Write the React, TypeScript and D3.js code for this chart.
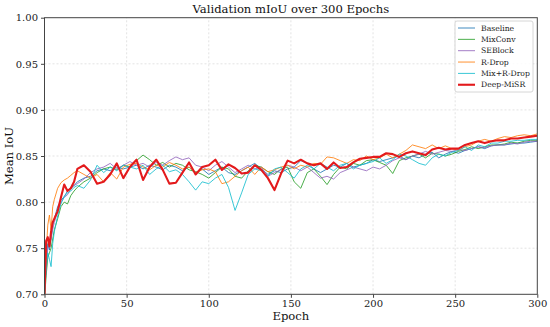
import React, { useEffect, useRef } from "react";
import * as d3 from "d3";

const W = 550;
const H = 327;
const margin = { top: 17.7, right: 12.7, bottom: 32.7, left: 44.5 };

// epochs shared by all series
const epochs = [
  0, 1, 2, 3, 4, 5, 6, 8, 10, 12, 14, 16, 18,
  20, 24, 28, 32, 36, 40, 44, 48, 52, 56, 60, 64, 68, 72, 76, 80, 84, 88, 92, 96,
  100, 104, 108, 112, 116, 120, 124, 128, 132, 136, 140, 144, 148, 152, 156, 160,
  164, 168, 172, 176, 180, 184, 188, 192, 196, 200, 204, 208, 212, 216, 220, 224,
  228, 232, 236, 240, 244, 248, 252, 256, 260, 264, 268, 272, 276, 280, 284, 288,
  292, 296, 300,
];

const baseline = [
  0.70, 0.735, 0.755, 0.748, 0.76, 0.775, 0.782, 0.795, 0.802, 0.806, 0.812, 0.816, 0.818,
  0.822, 0.826, 0.828, 0.834, 0.836, 0.834, 0.838, 0.836, 0.838, 0.840, 0.836, 0.840, 0.838, 0.835, 0.840, 0.838, 0.834, 0.838, 0.832, 0.836,
  0.830, 0.834, 0.838, 0.832, 0.830, 0.834, 0.838, 0.842, 0.836, 0.830, 0.834, 0.832, 0.836, 0.838, 0.845, 0.842,
  0.836, 0.832, 0.836, 0.840, 0.838, 0.842, 0.838, 0.840, 0.842, 0.846, 0.844, 0.846, 0.848, 0.850, 0.846, 0.850,
  0.848, 0.852, 0.854, 0.848, 0.852, 0.855, 0.853, 0.856, 0.858, 0.860, 0.858, 0.861, 0.862, 0.862, 0.863, 0.864,
  0.864, 0.865, 0.866,
];

const mixConv = [
  0.695, 0.72, 0.74, 0.745, 0.75, 0.76, 0.77, 0.782, 0.795, 0.800, 0.798, 0.807, 0.812,
  0.816, 0.822, 0.826, 0.832, 0.836, 0.838, 0.835, 0.840, 0.838, 0.845, 0.851, 0.846, 0.840, 0.843, 0.838, 0.842, 0.840, 0.835, 0.833, 0.830,
  0.826, 0.832, 0.838, 0.836, 0.828, 0.826, 0.834, 0.840, 0.838, 0.833, 0.830, 0.836, 0.838, 0.822, 0.815, 0.832,
  0.836, 0.828, 0.819, 0.830, 0.838, 0.836, 0.842, 0.840, 0.845, 0.846, 0.843, 0.840, 0.831, 0.845, 0.848, 0.850,
  0.852, 0.848, 0.853, 0.852, 0.850, 0.852, 0.855, 0.857, 0.860, 0.858, 0.860, 0.862, 0.862, 0.863, 0.865, 0.864,
  0.866, 0.867, 0.867,
];

const seBlock = [
  0.70, 0.73, 0.75, 0.755, 0.76, 0.77, 0.778, 0.79, 0.80, 0.805, 0.808, 0.814, 0.818,
  0.82, 0.825, 0.832, 0.836, 0.838, 0.842, 0.836, 0.840, 0.844, 0.840, 0.842, 0.838, 0.843, 0.840, 0.845, 0.849, 0.846, 0.848, 0.840, 0.838,
  0.834, 0.840, 0.844, 0.838, 0.832, 0.836, 0.840, 0.836, 0.838, 0.828, 0.832, 0.835, 0.840, 0.838, 0.834, 0.838,
  0.832, 0.826, 0.828, 0.825, 0.832, 0.835, 0.838, 0.836, 0.834, 0.838, 0.836, 0.840, 0.845, 0.848, 0.846, 0.850,
  0.852, 0.855, 0.852, 0.854, 0.856, 0.855, 0.857, 0.856, 0.858, 0.860, 0.859, 0.861, 0.862, 0.862, 0.864, 0.863,
  0.865, 0.866, 0.866,
];

const rDrop = [
  0.70, 0.745, 0.775, 0.786, 0.77, 0.795, 0.803, 0.815, 0.821, 0.824, 0.826, 0.829, 0.832,
  0.834, 0.830, 0.826, 0.830, 0.822, 0.832, 0.825, 0.838, 0.841, 0.842, 0.838, 0.835, 0.840, 0.838, 0.843, 0.840, 0.836, 0.838, 0.832, 0.835,
  0.836, 0.833, 0.820, 0.822, 0.828, 0.834, 0.838, 0.830, 0.838, 0.833, 0.835, 0.838, 0.840, 0.836, 0.840, 0.838,
  0.842, 0.841, 0.849, 0.848, 0.845, 0.842, 0.846, 0.845, 0.850, 0.846, 0.848, 0.852, 0.848, 0.852, 0.856, 0.862,
  0.860, 0.858, 0.862, 0.858, 0.861, 0.858, 0.856, 0.860, 0.862, 0.866, 0.868, 0.866, 0.869, 0.871, 0.870, 0.872,
  0.873, 0.872, 0.874,
];

const mixRDrop = [
  0.70, 0.725, 0.745, 0.738, 0.73, 0.755, 0.768, 0.785, 0.798, 0.806, 0.81, 0.812, 0.816,
  0.818, 0.815, 0.824, 0.840, 0.832, 0.838, 0.834, 0.840, 0.838, 0.836, 0.840, 0.830, 0.836, 0.840, 0.833, 0.835, 0.830, 0.822, 0.813, 0.822,
  0.820, 0.826, 0.830, 0.816, 0.791, 0.810, 0.830, 0.836, 0.834, 0.828, 0.836, 0.838, 0.832, 0.826, 0.836, 0.840,
  0.836, 0.842, 0.838, 0.834, 0.840, 0.842, 0.836, 0.840, 0.842, 0.844, 0.848, 0.842, 0.846, 0.852, 0.850, 0.846,
  0.842, 0.840, 0.848, 0.852, 0.850, 0.854, 0.856, 0.860, 0.856, 0.862, 0.860, 0.864, 0.864, 0.866, 0.866, 0.867,
  0.867, 0.868, 0.868,
];

const deepMiSR = [
  0.70, 0.758, 0.762, 0.752, 0.768, 0.778, 0.782, 0.790, 0.805, 0.819, 0.812, 0.815, 0.822,
  0.836, 0.840, 0.833, 0.820, 0.822, 0.830, 0.842, 0.826, 0.838, 0.846, 0.824, 0.838, 0.846, 0.835, 0.820, 0.821, 0.832, 0.843, 0.830, 0.838,
  0.840, 0.846, 0.835, 0.841, 0.837, 0.831, 0.832, 0.840, 0.835, 0.826, 0.813, 0.831, 0.845, 0.842, 0.846, 0.842,
  0.840, 0.842, 0.836, 0.843, 0.837, 0.838, 0.843, 0.847, 0.848, 0.849, 0.849, 0.853, 0.852, 0.849, 0.853, 0.855,
  0.853, 0.851, 0.857, 0.859, 0.857, 0.858, 0.858, 0.862, 0.864, 0.866, 0.864, 0.866, 0.867, 0.867, 0.869, 0.869,
  0.870, 0.871, 0.872,
];

const seriesNames = ["Baseline", "MixConv", "SEBlock", "R-Drop", "Mix+R-Drop", "Deep-MiSR"];
const seriesValues = [baseline, mixConv, seBlock, rDrop, mixRDrop, deepMiSR];
const colors = ["#1f77b4", "#2ca02c", "#9467bd", "#ff7f0e", "#17becf", "#e31a1c"];

const xTicks = [0, 50, 100, 150, 200, 250, 300];
const yTicks = [0.7, 0.75, 0.8, 0.85, 0.9, 0.95, 1.0];

const FONT = "'DejaVu Serif', serif";

export default function App() {
  const ref = useRef<SVGSVGElement>(null);

  useEffect(() => {
    const svg = d3.select(ref.current);
    svg.selectAll("*").remove();

    const x = d3.scaleLinear().domain([0, 300]).range([margin.left, W - margin.right]);
    const y = d3.scaleLinear().domain([0.7, 1.0]).range([H - margin.bottom, margin.top]);

    svg.append("rect").attr("width", W).attr("height", H).attr("fill", "#fff");

    // grid
    const grid = svg.append("g").attr("stroke", "#dcdcdc").attr("stroke-width", 0.8)
      .attr("stroke-dasharray", "2,2");
    xTicks.slice(1, -1).forEach((t) => {
      grid.append("line").attr("x1", x(t)).attr("x2", x(t))
        .attr("y1", y(0.7)).attr("y2", y(1.0));
    });
    yTicks.slice(1, -1).forEach((t) => {
      grid.append("line").attr("x1", x(0)).attr("x2", x(300))
        .attr("y1", y(t)).attr("y2", y(t));
    });

    // lines
    svg.append("defs").append("clipPath").attr("id", "plot-clip")
      .append("rect").attr("x", x(0)).attr("y", y(1.0))
      .attr("width", x(300) - x(0)).attr("height", y(0.7) - y(1.0));

    const line = d3.line<number>()
      .x((_, i) => x(epochs[i]))
      .y((d) => y(d));

    const lines = svg.append("g").attr("clip-path", "url(#plot-clip)");
    seriesValues.forEach((vals, i) => {
      const isMain = i === seriesValues.length - 1;
      lines.append("path")
        .datum(vals)
        .attr("d", line)
        .attr("fill", "none")
        .attr("stroke", colors[i])
        .attr("stroke-width", isMain ? 2.1 : 1)
        .attr("stroke-opacity", isMain ? 1 : 0.85)
        .attr("stroke-linejoin", "round");
    });

    // frame
    svg.append("rect")
      .attr("x", x(0)).attr("y", y(1.0))
      .attr("width", x(300) - x(0)).attr("height", y(0.7) - y(1.0))
      .attr("fill", "none").attr("stroke", "#444").attr("stroke-width", 1);

    // axes
    const xAxis = svg.append("g")
      .attr("transform", `translate(0,${y(0.7)})`)
      .call(d3.axisBottom(x).tickValues(xTicks).tickSize(3.5).tickPadding(1.8).tickFormat(d3.format("d")));
    const yAxis = svg.append("g")
      .attr("transform", `translate(${x(0)},0)`)
      .call(d3.axisLeft(y).tickValues(yTicks).tickSize(3.5).tickPadding(3).tickFormat(d3.format(".2f")));
    [xAxis, yAxis].forEach((g) => {
      g.select(".domain").remove();
      g.selectAll("line").attr("stroke", "#444");
      g.selectAll("text").attr("font-family", FONT).attr("font-size", 10).attr("fill", "#222");
    });

    // title and axis labels
    svg.append("text")
      .attr("x", (x(0) + x(300)) / 2).attr("y", 13)
      .attr("text-anchor", "middle")
      .attr("font-family", FONT).attr("font-size", 11.6).attr("fill", "#111")
      .text("Validation mIoU over 300 Epochs");
    svg.append("text")
      .attr("x", (x(0) + x(300)) / 2).attr("y", 320)
      .attr("text-anchor", "middle")
      .attr("font-family", FONT).attr("font-size", 11.6).attr("fill", "#111")
      .text("Epoch");
    svg.append("text")
      .attr("transform", `translate(13,${(y(0.7) + y(1.0)) / 2}) rotate(-90)`)
      .attr("text-anchor", "middle")
      .attr("font-family", FONT).attr("font-size", 11.6).attr("fill", "#111")
      .text("Mean IoU");

    // legend
    const lg = svg.append("g").attr("transform", "translate(455,21)");
    lg.append("rect")
      .attr("width", 78).attr("height", 71).attr("rx", 2)
      .attr("fill", "#fff").attr("fill-opacity", 0.85)
      .attr("stroke", "#ccc").attr("stroke-width", 0.8);
    seriesNames.forEach((name, i) => {
      const cy = 7 + i * 11.35;
      const isMain = i === seriesNames.length - 1;
      lg.append("line")
        .attr("x1", 3).attr("x2", 20).attr("y1", cy).attr("y2", cy)
        .attr("stroke", colors[i])
        .attr("stroke-width", isMain ? 2.1 : 1)
        .attr("stroke-opacity", isMain ? 1 : 0.85);
      lg.append("text")
        .attr("x", 26).attr("y", cy + 2.7)
        .attr("font-family", FONT).attr("font-size", 7.7).attr("fill", "#222")
        .text(name);
    });
  }, []);

  return (
    <svg
      ref={ref}
      width={W}
      height={H}
      style={{ position: "absolute", left: 0, top: 0, display: "block" }}
    />
  );
}
